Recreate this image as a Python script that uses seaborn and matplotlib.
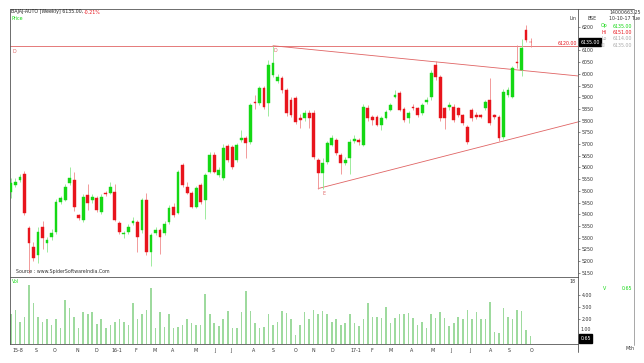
import numpy as np
import pandas as pd
import matplotlib
matplotlib.use("Agg")
import matplotlib.pyplot as plt
import matplotlib.transforms as mtransforms
from matplotlib.lines import Line2D
import seaborn as sns

# Weekly OHLC
opens = [5496, 5525, 5547, 5572, 5342, 5261, 5226, 5346, 5278, 5303,
         5325, 5453, 5461, 5534, 5547, 5397, 5376, 5483, 5461, 5470,
         5410, 5491, 5491, 5496, 5363, 5316, 5325, 5363, 5367, 5333,
         5461, 5239, 5320, 5333, 5320, 5367, 5431, 5406, 5611, 5517,
         5491, 5431, 5525, 5461, 5581, 5653, 5568, 5555, 5692, 5688,
         5632, 5717, 5726, 5709, 5880, 5875, 5940, 5875, 5995, 5969,
         5982, 5931, 5888, 5897, 5811, 5811, 5833, 5833, 5632, 5577,
         5624, 5696, 5717, 5653, 5619, 5641, 5713, 5717, 5696, 5854,
         5816, 5816, 5782, 5811, 5846, 5901, 5918, 5850, 5811, 5858,
         5854, 5833, 5880, 5901, 6038, 5987, 5854, 5858, 5858, 5854,
         5824, 5773, 5846, 5824, 5824, 5854, 5888, 5824, 5816, 5730,
         5910, 5901, 6051, 6016, 6187, 6138]
closes = [5534, 5538, 5560, 5406, 5278, 5214, 5325, 5299, 5290, 5320,
          5453, 5470, 5517, 5555, 5431, 5384, 5474, 5448, 5474, 5419,
          5474, 5487, 5517, 5376, 5325, 5320, 5346, 5371, 5303, 5461,
          5239, 5312, 5333, 5303, 5359, 5427, 5397, 5581, 5525, 5491,
          5431, 5513, 5453, 5568, 5653, 5581, 5589, 5683, 5632, 5602,
          5696, 5726, 5705, 5867, 5875, 5940, 5858, 6038, 6046, 5987,
          5931, 5833, 5824, 5794, 5803, 5833, 5811, 5645, 5577, 5619,
          5705, 5726, 5662, 5619, 5632, 5709, 5721, 5709, 5858, 5811,
          5803, 5782, 5811, 5837, 5867, 5910, 5846, 5803, 5833, 5854,
          5824, 5867, 5888, 6004, 5987, 5811, 5811, 5867, 5803, 5824,
          5790, 5709, 5811, 5816, 5816, 5880, 5790, 5816, 5726, 5922,
          5931, 6025, 6046, 6110, 6144, 6135]
highs = [5555, 5555, 5572, 5585, 5350, 5280, 5345, 5370, 5305, 5335,
         5465, 5480, 5530, 5600, 5580, 5400, 5485, 5530, 5485, 5480,
         5485, 5500, 5540, 5530, 5370, 5330, 5360, 5390, 5375, 5470,
         5490, 5320, 5345, 5340, 5370, 5440, 5450, 5590, 5620, 5540,
         5500, 5520, 5535, 5575, 5665, 5665, 5600, 5700, 5700, 5695,
         5705, 5760, 5735, 5875, 5910, 5950, 5950, 6060, 6120, 6000,
         5990, 5940, 5900, 5905, 5830, 5845, 5845, 5845, 5640, 5640,
         5715, 5740, 5725, 5660, 5645, 5720, 5740, 5725, 5870, 5865,
         5825, 5825, 5820, 5845, 5875, 5930, 5925, 5860, 5840, 5870,
         5860, 5875, 5900, 6015, 6055, 5995, 5860, 5880, 5870, 5860,
         5830, 5780, 5855, 5835, 5830, 5890, 5982, 5830, 5825, 5935,
         5945, 6035, 6123, 6150, 6209, 6151]
lows = [5470, 5515, 5540, 5395, 5150, 5200, 5190, 5250, 5240, 5290,
        5315, 5445, 5455, 5525, 5415, 5375, 5365, 5420, 5450, 5410,
        5400, 5480, 5485, 5370, 5315, 5300, 5315, 5355, 5240, 5320,
        5225, 5180, 5310, 5230, 5310, 5360, 5390, 5400, 5515, 5485,
        5425, 5425, 5445, 5380, 5575, 5575, 5560, 5545, 5625, 5595,
        5625, 5710, 5640, 5700, 5850, 5865, 5850, 5820, 5985, 5960,
        5920, 5820, 5815, 5785, 5770, 5800, 5770, 5635, 5510, 5510,
        5615, 5690, 5655, 5570, 5610, 5570, 5705, 5695, 5690, 5800,
        5780, 5775, 5760, 5805, 5840, 5895, 5840, 5795, 5790, 5845,
        5815, 5825, 5870, 5890, 5975, 5800, 5765, 5845, 5795, 5815,
        5780, 5700, 5800, 5805, 5810, 5845, 5780, 5805, 5715, 5720,
        5900, 5895, 6025, 5990, 6135, 6114]
volumes = [2.4, 2.8, 1.8, 2.2, 4.8, 3.3, 2.2, 1.8, 2.0, 1.55,
           2.0, 1.3, 3.6, 2.9, 2.2, 1.3, 2.6, 2.4, 2.6, 1.6,
           2.0, 1.3, 1.55, 1.8, 2.0, 1.8, 1.55, 3.3, 2.0, 2.45,
           2.8, 4.55, 1.3, 2.6, 1.4, 2.4, 1.3, 1.35, 1.55, 2.0,
           1.7, 1.55, 1.55, 4.1, 2.4, 1.7, 1.5, 2.0, 2.65, 1.3,
           1.3, 2.6, 4.35, 2.65, 1.7, 1.3, 1.4, 2.4, 1.55, 1.8,
           2.65, 2.5, 2.0, 0.75, 1.55, 2.6, 2.0, 2.8, 2.4, 2.65,
           2.4, 1.8, 2.0, 1.55, 1.7, 2.4, 1.7, 1.5, 2.0, 3.3,
           2.2, 2.2, 2.1, 3.0, 1.7, 2.1, 2.4, 2.4, 2.5, 2.1,
           1.55, 1.8, 1.3, 2.4, 2.1, 2.6, 2.1, 1.5, 1.7, 2.2,
           2.0, 2.8, 2.0, 2.6, 2.0, 2.0, 3.4, 1.0, 0.9, 2.9,
           2.2, 2.0, 2.8, 2.65, 1.15, 0.65]

# month labels and the week index where each sits
month_labels = ["15-8", "S", "O", "N", "D", "16-1", "F", "M", "A", "M", "J", "J", "A",
                "S", "O", "N", "D", "17-1", "F", "M", "A", "M", "J", "J", "A", "S", "O"]
month_pos = [1.5, 5.5, 9.7, 14.8, 18.8, 23.5, 27.7, 31.9, 35.8, 40.9, 45.1, 48.7, 53.8,
             58.0, 63.0, 67.0, 71.2, 76.3, 79.9, 84.0, 88.7, 93.4, 97.3, 101.5, 106.2, 110.2, 115.3]

# drawn lines
resistance = 6120
upper_x = [58, 126]
upper_y = [6120, 5990]
lower_x = [68, 126]
lower_y = [5510, 5797]

df = pd.DataFrame({"o": opens, "h": highs, "l": lows, "c": closes, "v": volumes})
df["i"] = np.arange(len(df))
up = df["c"] >= df["o"]

GREEN = "#14d814"
RED = "#e8141c"
GWICK = "#8ee88e"
RWICK = "#f08a8a"
LINE = "#e06464"
FS = 3.4

sns.set_style("white")
plt.rcParams["font.family"] = ["DejaVu Sans"]

W, H = 644, 363
fig = plt.figure(figsize=(W / 100, H / 100), dpi=100)
fig.patch.set_facecolor("white")


def fx(x):
    return x / W


def fy(y):
    return 1 - y / H


ax = fig.add_axes([fx(10), fy(277), fx(568), (277 - 9) / H])
axv = fig.add_axes([fx(10), fy(344), fx(568), (344 - 277) / H], sharex=ax)

# candles
ax.vlines(df["i"], df["l"], df["h"], colors=np.where(up, GWICK, RWICK), lw=0.6, zorder=2)
body_lo = np.minimum(df["o"], df["c"])
body_h = np.abs(df["c"] - df["o"])
ax.bar(df["i"], body_h, bottom=body_lo, width=0.62,
       color=np.where(up, GREEN, RED), edgecolor=np.where(up, GREEN, RED), lw=0.3, zorder=3)

# trend lines
ax.axhline(resistance, color=LINE, lw=0.6, zorder=1)
sns.lineplot(x=upper_x, y=upper_y, ax=ax, color=LINE, lw=0.6, zorder=1)
sns.lineplot(x=lower_x, y=lower_y, ax=ax, color=LINE, lw=0.6, zorder=1)
ax.text(upper_x[0] + 0.2, upper_y[0] - 8, "D", color=LINE, fontsize=FS, va="top")
ax.text(lower_x[0] + 1, lower_y[0] - 12, "E", color=LINE, fontsize=FS, va="top")
ax.text(0.3, resistance - 12, "D", color=LINE, fontsize=FS, va="top")

ax.set_xlim(-0.2, 125.5)
ax.set_ylim(5132, 6277)
ax.yaxis.tick_right()
price_ticks = list(range(5150, 6201, 50))
ax.set_yticks(price_ticks)
# the 6150 label sits under the black last-price box
ax.set_yticklabels(["" if v == 6150 else str(v) for v in price_ticks])
ax.tick_params(axis="y", labelsize=FS, length=1.5, width=0.4, pad=1, colors="#333333")
ax.tick_params(axis="x", bottom=False, labelbottom=False)
for s in ax.spines.values():
    s.set_color("#555555")
    s.set_linewidth(0.6)

trans = mtransforms.blended_transform_factory(ax.transAxes, ax.transData)
ax.text(0.998, resistance + 8, "%.2f" % resistance, transform=trans, color=RED,
        fontsize=FS, ha="right", va="center")
ax.text(1.004, closes[-1], "%.2f" % closes[-1], transform=trans, color="white",
        fontsize=FS, ha="left", va="center",
        bbox=dict(boxstyle="square,pad=0.35", fc="black", ec="black"))
ax.text(0.01, 0.01, "Source : www.SpiderSoftwareIndia.Com", transform=ax.transAxes,
        fontsize=FS, color="#333333", ha="left", va="bottom")

# volume
sns.barplot(x=df["i"], y=df["v"], native_scale=True, width=0.35, color="#94e494",
            linewidth=0, ax=axv)
axv.set_xlabel("")
axv.set_ylabel("")
axv.set_xlim(-0.2, 125.5)
axv.set_ylim(0, 5.45)
axv.yaxis.tick_right()
axv.set_yticks([2, 3, 4])
axv.set_yticklabels(["2.00", "3.00", "4.00"])
axv.tick_params(axis="y", labelsize=FS, length=1.5, width=0.4, pad=1, colors="#333333")
axv.set_xticks(month_pos)
axv.set_xticklabels(month_labels)
axv.set_xticks(df["i"], minor=True)
axv.tick_params(axis="x", which="major", labelsize=FS, length=2, width=0.4, pad=1,
                colors="#333333")
axv.tick_params(axis="x", which="minor", length=1.2, width=0.3, colors="#555555")
for s in axv.spines.values():
    s.set_color("#555555")
    s.set_linewidth(0.6)
transv = mtransforms.blended_transform_factory(axv.transAxes, axv.transData)
axv.text(1.004, 1.0, "1.00", transform=transv, color="#333333", fontsize=FS,
         ha="left", va="bottom")
axv.text(1.004, volumes[-1], "%.2f" % volumes[-1], transform=transv, color="white",
         fontsize=FS, ha="left", va="top",
         bbox=dict(boxstyle="square,pad=0.35", fc="black", ec="black"))
axv.text(0.003, 0.97, "Vol", transform=axv.transAxes, color=GREEN, fontsize=FS,
         ha="left", va="top")
axv.text(0.995, 0.97, "18", transform=axv.transAxes, color="#333333", fontsize=FS,
         ha="right", va="top")

# header texts
fig.text(fx(11), fy(12), "BAJAJ-AUTO [Weekly] 6135.00,", fontsize=FS, color="#222222",
         va="center")
fig.text(fx(84), fy(12), "-0.21%", fontsize=FS, color=RED, va="center")
fig.text(fx(11), fy(19), "Price", fontsize=FS, color=GREEN, va="center")
fig.text(fx(570), fy(19), "Lin", fontsize=FS, color="#333333", va="center")
fig.text(fx(587), fy(19), "BSE", fontsize=FS, color="#333333", va="center")

# info panel on the right
fig.text(fx(609), fy(12), "14000663.25", fontsize=FS, color="#333333", va="center")
fig.text(fx(609), fy(19), "10-10-17 Tue", fontsize=FS, color="#333333", va="center")
info = [("Op", "6135.00", GREEN), ("Hi", "6151.00", RED),
        ("Lo", "6114.00", "#aaaaaa"), ("Cl", "6135.00", "#aaaaaa")]
for k, (name, val, col) in enumerate(info):
    yy = 26 + k * 6.5
    fig.text(fx(601), fy(yy), name, fontsize=FS, color=col, va="center")
    fig.text(fx(632), fy(yy), val, fontsize=FS, color=col, va="center", ha="right")
fig.text(fx(603), fy(289), "V", fontsize=FS, color=GREEN, va="center")
fig.text(fx(632), fy(289), "%.2f" % volumes[-1], fontsize=FS, color=GREEN, va="center",
         ha="right")
fig.text(fx(626), fy(348), "Mth", fontsize=FS, color="#333333", va="center")

# outer frame pieces
fig.add_artist(Line2D([fx(578), fx(634)], [fy(9), fy(9)], color="#555555", lw=0.6))
fig.add_artist(Line2D([fx(634), fx(634)], [fy(9), fy(345)], color="#999999", lw=0.6))
fig.add_artist(Line2D([fx(578), fx(578)], [fy(344), fy(352)], color="#555555", lw=0.6))

fig.savefig("out.png", dpi=100)
